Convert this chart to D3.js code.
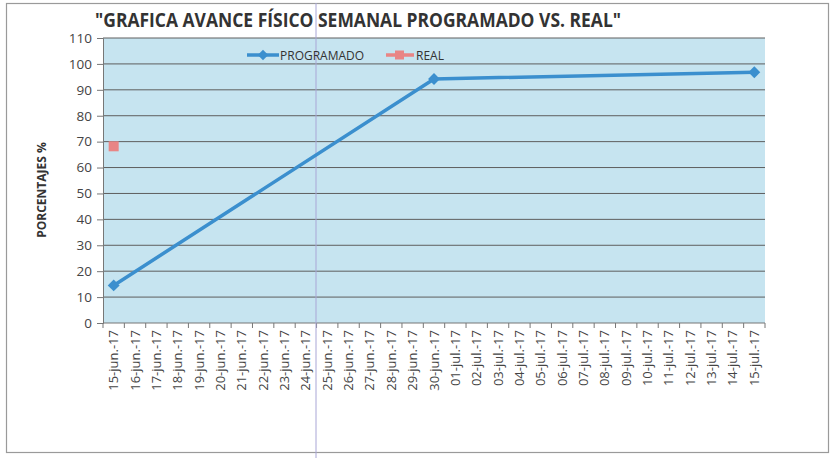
<!DOCTYPE html>
<html>
<head>
<meta charset="utf-8">
<script src="https://cdn.jsdelivr.net/npm/d3@7"></script>
<style>
  body { margin: 0; background: #fff; }
  text { font-family: "Open Sans", "DejaVu Sans", sans-serif; }
</style>
</head>
<body>
<script>
// categories: one per day, 15-jun-17 .. 15-jul-17
var days = [
  "15-jun.-17","16-jun.-17","17-jun.-17","18-jun.-17","19-jun.-17","20-jun.-17",
  "21-jun.-17","22-jun.-17","23-jun.-17","24-jun.-17","25-jun.-17","26-jun.-17",
  "27-jun.-17","28-jun.-17","29-jun.-17","30-jun.-17","01-jul.-17","02-jul.-17",
  "03-jul.-17","04-jul.-17","05-jul.-17","06-jul.-17","07-jul.-17","08-jul.-17",
  "09-jul.-17","10-jul.-17","11-jul.-17","12-jul.-17","13-jul.-17","14-jul.-17",
  "15-jul.-17"
];
var programado = [
  {day: "15-jun.-17", value: 14.5},
  {day: "30-jun.-17", value: 94.2},
  {day: "15-jul.-17", value: 96.8}
];
var real = [
  {day: "15-jun.-17", value: 68.2}
];
var yTicks = [0, 10, 20, 30, 40, 50, 60, 70, 80, 90, 100, 110];

var w = 835, h = 458;
var svg = d3.select("body").append("svg")
    .attr("width", w)
    .attr("height", h);

// chart frame
svg.append("rect")
    .attr("x", 6.5).attr("y", 3.5)
    .attr("width", 822).attr("height", 449)
    .attr("fill", "white")
    .attr("stroke", "#9a9a9a")
    .attr("stroke-width", 1.2);

var pLeft = 103, pRight = 765, pTop = 38, pBottom = 323;

var x = d3.scaleBand().domain(days).range([pLeft, pRight]);
var y = d3.scaleLinear().domain([0, 110]).range([pBottom, pTop]);

// plot background
svg.append("rect")
    .attr("x", pLeft).attr("y", pTop)
    .attr("width", pRight - pLeft).attr("height", pBottom - pTop)
    .attr("fill", "#c6e4f0");

// gridlines
svg.append("g")
    .selectAll("line")
    .data(yTicks.slice(1))
    .enter()
    .append("line")
    .attr("x1", pLeft).attr("x2", pRight)
    .attr("y1", function(d) { return y(d); })
    .attr("y2", function(d) { return y(d); })
    .attr("stroke", "#5e5e5e")
    .attr("stroke-width", 1);

// y axis
var yAxis = svg.append("g")
    .attr("transform", "translate(" + pLeft + ",0)")
    .call(d3.axisLeft(y).tickValues(yTicks).tickSize(6).tickPadding(5));
yAxis.select(".domain").attr("stroke", "#777");
yAxis.selectAll(".tick line").attr("stroke", "#777");
yAxis.selectAll(".tick text")
    .attr("fill", "#444")
    .style("font-size", "13.5px");

// x axis: ticks sit between categories
var xAxis = svg.append("g")
    .attr("transform", "translate(0," + pBottom + ")");
xAxis.append("line")
    .attr("x1", pLeft).attr("x2", pRight)
    .attr("stroke", "#777");
xAxis.selectAll("line.tk")
    .data(days.concat(["end"]))
    .enter()
    .append("line")
    .attr("class", "tk")
    .attr("x1", function(d, i) { return pLeft + i * x.step(); })
    .attr("x2", function(d, i) { return pLeft + i * x.step(); })
    .attr("y1", 0).attr("y2", 5)
    .attr("stroke", "#777");
xAxis.selectAll("text")
    .data(days)
    .enter()
    .append("text")
    .attr("transform", function(d) {
        return "translate(" + (x(d) + x.bandwidth() / 2 + 4.5) + ",7) rotate(-90)";
    })
    .attr("text-anchor", "end")
    .attr("fill", "#444")
    .style("font-size", "13px")
    .text(function(d) { return d; });

// scan artefact: thin vertical line
svg.append("line")
    .attr("x1", 316).attr("x2", 316)
    .attr("y1", 3).attr("y2", 458)
    .attr("stroke", "#a9a6d6")
    .attr("stroke-width", 1);

// PROGRAMADO line
var line = d3.line()
    .x(function(d) { return x(d.day) + x.bandwidth() / 2; })
    .y(function(d) { return y(d.value); });

svg.append("path")
    .datum(programado)
    .attr("d", line)
    .attr("fill", "none")
    .attr("stroke", "#3b8fce")
    .attr("stroke-width", 3.5);

svg.selectAll("path.diamond")
    .data(programado)
    .enter()
    .append("path")
    .attr("class", "diamond")
    .attr("d", d3.symbol().type(d3.symbolDiamond2).size(90))
    .attr("transform", function(d) {
        return "translate(" + (x(d.day) + x.bandwidth() / 2) + "," + y(d.value) + ")";
    })
    .attr("fill", "#3b8fce");

// REAL marker
svg.selectAll("rect.real")
    .data(real)
    .enter()
    .append("rect")
    .attr("class", "real")
    .attr("x", function(d) { return x(d.day) + x.bandwidth() / 2 - 5; })
    .attr("y", function(d) { return y(d.value) - 5; })
    .attr("width", 10).attr("height", 10)
    .attr("fill", "#e98585");

// legend
var lg = svg.append("g");
lg.append("line")
    .attr("x1", 247).attr("x2", 279).attr("y1", 55).attr("y2", 55)
    .attr("stroke", "#3b8fce").attr("stroke-width", 3.5);
lg.append("path")
    .attr("d", d3.symbol().type(d3.symbolDiamond2).size(70))
    .attr("transform", "translate(263,55)")
    .attr("fill", "#3b8fce");
lg.append("text")
    .attr("x", 280).attr("y", 59.5)
    .attr("fill", "#333")
    .style("font-size", "12px")
    .text("PROGRAMADO");
lg.append("line")
    .attr("x1", 386).attr("x2", 414).attr("y1", 55).attr("y2", 55)
    .attr("stroke", "#e98585").attr("stroke-width", 3.5);
lg.append("rect")
    .attr("x", 395).attr("y", 50.5).attr("width", 9).attr("height", 9)
    .attr("fill", "#e98585");
lg.append("text")
    .attr("x", 416).attr("y", 59.5)
    .attr("fill", "#333")
    .style("font-size", "12px")
    .text("REAL");

// title
svg.append("text")
    .attr("x", 358).attr("y", 27)
    .attr("text-anchor", "middle")
    .attr("fill", "#333")
    .style("font-size", "20px")
    .style("font-weight", "bold")
    .attr("textLength", 526)
    .attr("lengthAdjust", "spacingAndGlyphs")
    .text("\"GRAFICA AVANCE FÍSICO SEMANAL PROGRAMADO VS. REAL\"");

// y axis title
svg.append("text")
    .attr("transform", "translate(46,190) rotate(-90)")
    .attr("text-anchor", "middle")
    .attr("fill", "#333")
    .style("font-size", "12px")
    .style("font-weight", "bold")
    .text("PORCENTAJES %");
</script>
</body>
</html>
